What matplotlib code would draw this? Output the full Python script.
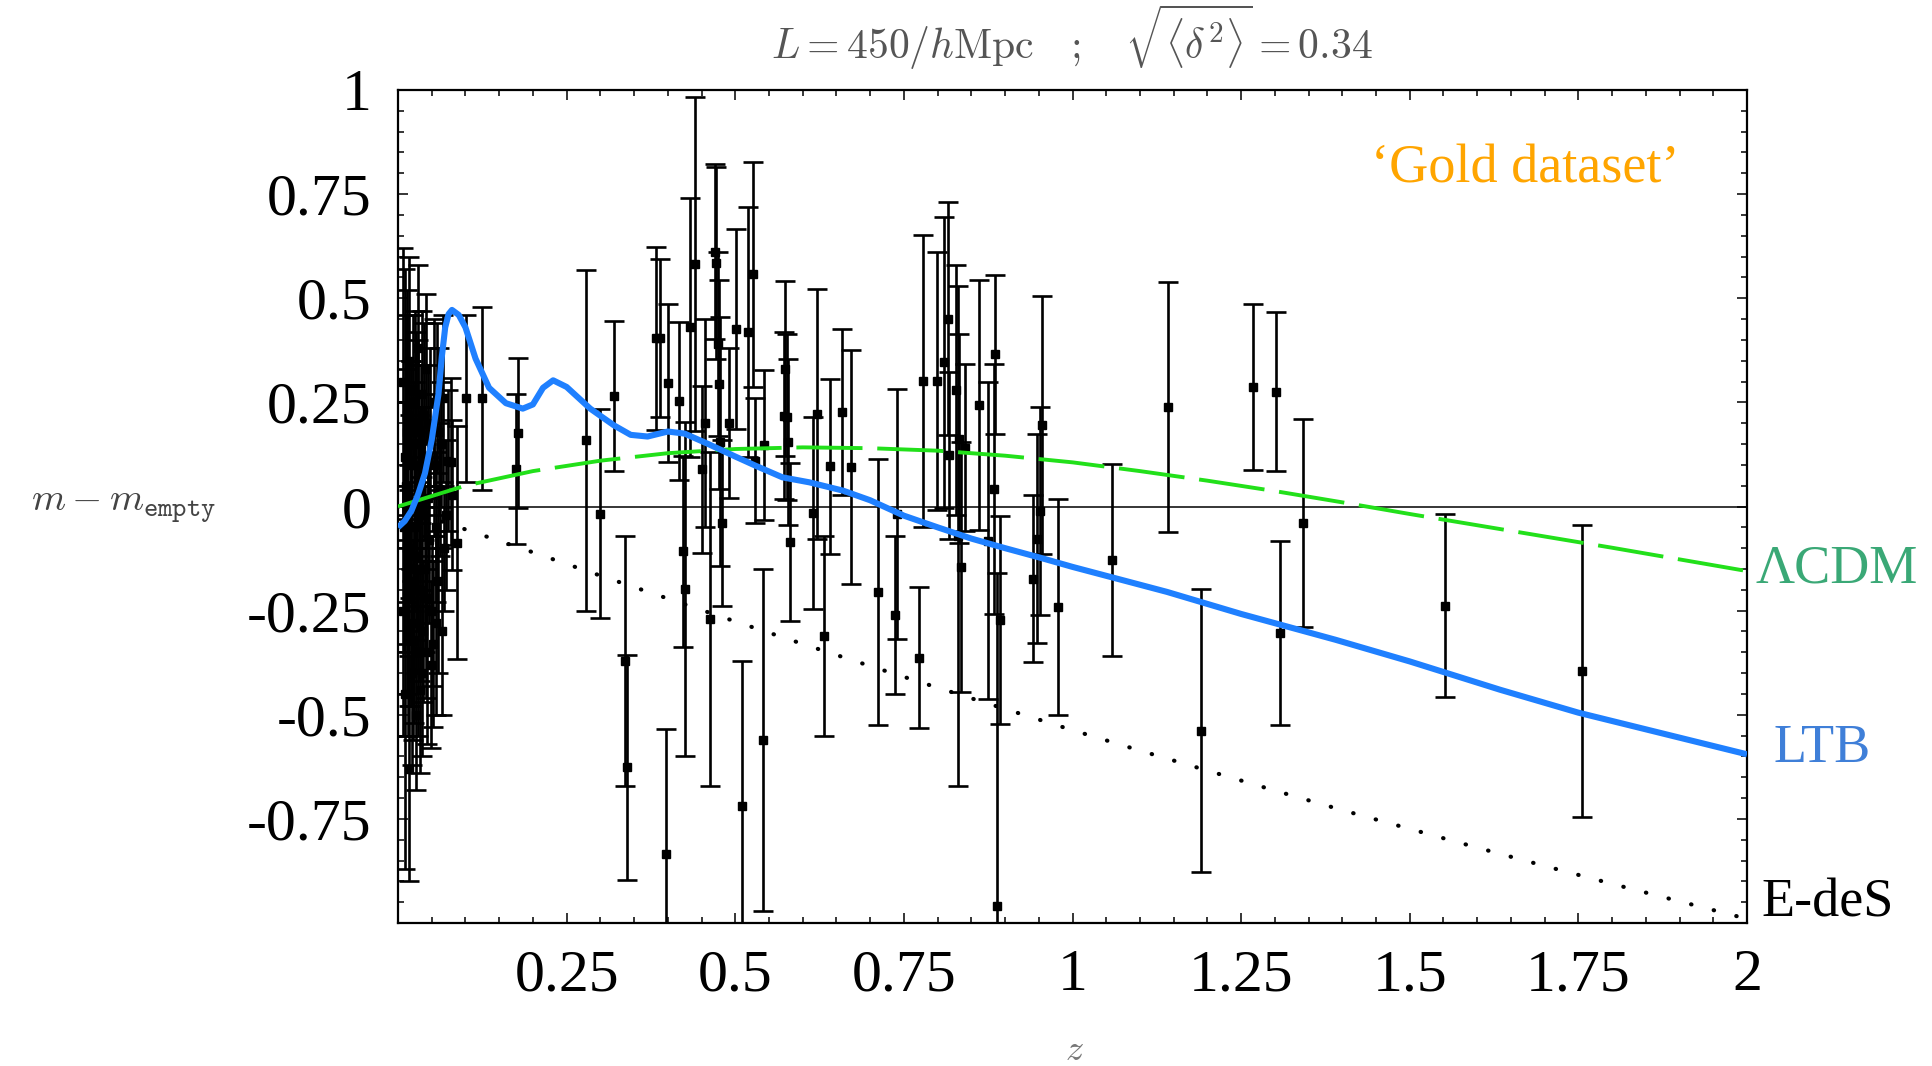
import matplotlib.pyplot as plt
import numpy as np
from matplotlib.ticker import MultipleLocator

plt.rcParams['mathtext.fontset'] = 'cm'

# supernova residuals m - m_empty: redshift, value, 1-sigma error
z_sn = [0.007, 0.008, 0.010, 0.011, 0.012, 0.013, 0.014, 0.015, 0.016, 0.017,
        0.018, 0.019, 0.020, 0.021, 0.022, 0.023, 0.024, 0.025, 0.026, 0.027,
        0.028, 0.029, 0.030, 0.031, 0.032, 0.033, 0.034, 0.035, 0.036, 0.037,
        0.038, 0.040, 0.041, 0.043, 0.044, 0.046, 0.048, 0.050, 0.052, 0.054,
        0.056, 0.058, 0.060, 0.062, 0.064, 0.066, 0.068, 0.071, 0.074, 0.078,
        0.080, 0.087,
        0.009, 0.013, 0.016, 0.019, 0.022, 0.025, 0.027, 0.030, 0.033, 0.036,
        0.039, 0.042, 0.045, 0.049, 0.053, 0.057, 0.061, 0.065,
        0.101, 0.125, 0.175, 0.178, 0.279, 0.299, 0.320, 0.336, 0.340, 0.383,
        0.388, 0.397, 0.401, 0.417, 0.422, 0.425, 0.433, 0.440, 0.450, 0.455,
        0.462, 0.470, 0.472, 0.474, 0.476, 0.478, 0.480, 0.490, 0.501, 0.510,
        0.519, 0.527, 0.529, 0.541, 0.543, 0.572, 0.574, 0.576, 0.578, 0.581,
        0.616, 0.621, 0.631, 0.641, 0.658, 0.671, 0.711, 0.737, 0.740, 0.773,
        0.779, 0.799, 0.809, 0.816, 0.817, 0.828, 0.830, 0.832, 0.835, 0.841,
        0.861, 0.874, 0.883, 0.885, 0.888, 0.892, 0.942, 0.947, 0.952, 0.955,
        0.979, 1.058, 1.141, 1.190, 1.267, 1.302, 1.307, 1.341, 1.552, 1.756]
dm_sn = [0.30, -0.25, 0.12, -0.45, 0.05, -0.10, 0.22, -0.30, 0.35, -0.63,
         0.00, -0.18, 0.15, -0.40, 0.28, -0.05, -0.28, 0.10, -0.50, 0.20,
         -0.12, 0.38, -0.35, 0.05, -0.20, -0.44, 0.15, -0.02, 0.27, -0.30,
         0.08, -0.15, 0.33, -0.35, 0.02, -0.08, 0.20, -0.25, -0.33, 0.10,
         -0.05, 0.26, -0.18, 0.04, 0.15, 0.26, -0.10, -0.02, 0.11, 0.108,
         0.028, -0.087,
         -0.05, 0.18, -0.22, 0.10, -0.32, 0.25, -0.15, 0.18, 0.00, -0.40,
         0.22, -0.22, 0.12, -0.38, 0.25, -0.28, 0.18, -0.30,
         0.26, 0.26, 0.09, 0.176, 0.159, -0.017, 0.266, -0.372, -0.626, 0.404,
         0.404, -0.834, 0.297, 0.254, -0.108, -0.198, 0.43, 0.582, 0.089, 0.20,
         -0.27, 0.612, 0.584, 0.39, 0.293, 0.156, -0.04, 0.20, 0.427, -0.72,
         0.42, 0.558, 0.11, -0.56, 0.147, 0.218, 0.331, 0.215, 0.155, -0.085,
         -0.015, 0.223, -0.31, 0.097, 0.227, 0.095, -0.205, -0.261, -0.017, -0.363,
         0.301, 0.301, 0.346, 0.451, 0.123, 0.279, -0.07, 0.163, -0.145, 0.141,
         0.243, -0.082, 0.041, 0.365, -0.96, -0.273, -0.173, -0.077, -0.01, 0.195,
         -0.241, -0.128, 0.238, -0.538, 0.287, 0.276, -0.304, -0.039, -0.238, -0.395]
err_sn = [0.32, 0.30, 0.45, 0.42, 0.28, 0.35, 0.30, 0.25, 0.25, 0.27,
          0.22, 0.30, 0.20, 0.22, 0.18, 0.20, 0.24, 0.20, 0.18, 0.22,
          0.18, 0.20, 0.20, 0.17, 0.22, 0.20, 0.19, 0.18, 0.20, 0.17,
          0.16, 0.20, 0.18, 0.22, 0.17, 0.20, 0.18, 0.18, 0.20, 0.17,
          0.18, 0.18, 0.22, 0.16, 0.15, 0.20, 0.15, 0.18, 0.17, 0.20,
          0.18, 0.28,
          0.30, 0.28, 0.26, 0.25, 0.24, 0.22, 0.25, 0.22, 0.24, 0.20,
          0.22, 0.24, 0.22, 0.20, 0.20, 0.22, 0.20, 0.20,
          0.20, 0.22, 0.18, 0.18, 0.41, 0.25, 0.18, 0.30, 0.27, 0.22,
          0.19, 0.30, 0.19, 0.19, 0.23, 0.40, 0.31, 0.40, 0.20, 0.25,
          0.40, 0.21, 0.23, 0.22, 0.25, 0.30, 0.20, 0.18, 0.24, 0.35,
          0.30, 0.27, 0.15, 0.41, 0.18, 0.20, 0.21, 0.20, 0.20, 0.19,
          0.23, 0.30, 0.24, 0.21, 0.20, 0.28, 0.32, 0.19, 0.30, 0.17,
          0.35, 0.31, 0.35, 0.28, 0.20, 0.30, 0.60, 0.25, 0.30, 0.20,
          0.30, 0.38, 0.30, 0.19, 0.80, 0.25, 0.20, 0.25, 0.25, 0.31,
          0.26, 0.23, 0.30, 0.34, 0.20, 0.19, 0.22, 0.25, 0.22, 0.35]

# model curves relative to the empty universe
z_ltb = [0.0, 0.01, 0.02, 0.03, 0.04, 0.05, 0.06, 0.065, 0.07, 0.075, 0.08, 0.09,
         0.10, 0.115, 0.135, 0.16, 0.185, 0.20, 0.215, 0.23, 0.25, 0.285, 0.32,
         0.345, 0.37, 0.40, 0.425, 0.46, 0.50, 0.53, 0.57, 0.61, 0.66, 0.70,
         0.75, 0.80, 0.85, 0.90, 0.95, 1.0, 1.14, 1.25, 1.39, 1.50, 1.634,
         1.75, 2.0]
dm_ltb = [-0.05, -0.035, -0.01, 0.03, 0.08, 0.16, 0.27, 0.36, 0.43, 0.462, 0.472, 0.46,
          0.43, 0.355, 0.285, 0.248, 0.235, 0.245, 0.285, 0.303, 0.287, 0.235, 0.195,
          0.172, 0.168, 0.18, 0.175, 0.15, 0.12, 0.098, 0.07, 0.058, 0.038, 0.015,
          -0.022, -0.05, -0.077, -0.10, -0.122, -0.145, -0.205, -0.258, -0.32, -0.372, -0.44,
          -0.495, -0.595]

z_grid = [0.0, 0.1, 0.2, 0.3, 0.4, 0.5, 0.6, 0.7, 0.8, 0.9, 1.0,
          1.1, 1.2, 1.3, 1.4, 1.5, 1.6, 1.7, 1.8, 1.9, 2.0]
dm_lcdm = [0.0, 0.05, 0.085, 0.11, 0.128, 0.138, 0.142, 0.14, 0.134, 0.122, 0.106,
           0.085, 0.062, 0.037, 0.01, -0.018, -0.045, -0.072, -0.099, -0.127, -0.155]
dm_eds = [0.0, -0.055, -0.110, -0.166, -0.221, -0.276, -0.330, -0.383, -0.435, -0.486, -0.537,
          -0.586, -0.634, -0.682, -0.729, -0.774, -0.819, -0.863, -0.906, -0.948, -0.990]

xtick_vals = [0.25, 0.5, 0.75, 1, 1.25, 1.5, 1.75, 2]
xtick_labels = ['0.25', '0.5', '0.75', '1', '1.25', '1.5', '1.75', '2']
ytick_vals = [-0.75, -0.5, -0.25, 0, 0.25, 0.5, 0.75, 1]
ytick_labels = ['-0.75', '-0.5', '-0.25', '0', '0.25', '0.5', '0.75', '1']

fig = plt.figure(figsize=(19.32, 10.66), dpi=100)
ax = fig.add_axes([398/1932, 1-923/1066, 1349/1932, 833/1066])

ax.axhline(0, color='black', lw=1.1, zorder=1)

ax.errorbar(z_sn, dm_sn, yerr=err_sn, fmt='s', color='black', ms=5.5,
            capsize=7, elinewidth=1.9, capthick=1.9, zorder=3)

ax.plot(z_grid, dm_eds, color='black', lw=3.0, linestyle=(0, (0.1, 5.5)),
        dash_capstyle='round', zorder=2)
ax.plot(z_grid, dm_lcdm, color='#22e01a', lw=2.8, linestyle=(0, (17, 3.8)), zorder=4)
ax.plot(z_ltb, dm_ltb, color='#1f80ff', lw=4.4, solid_capstyle='butt',
        solid_joinstyle='round', zorder=4)

ax.set_xlim(0, 2)
ax.set_ylim(-1, 1)
ax.set_xticks(xtick_vals)
ax.set_xticklabels(xtick_labels)
ax.set_yticks(ytick_vals)
ax.set_yticklabels(ytick_labels)
ax.xaxis.set_minor_locator(MultipleLocator(0.05))
ax.yaxis.set_minor_locator(MultipleLocator(0.05))
ax.tick_params(which='both', direction='in', top=True, right=True, width=1.1)
ax.tick_params(which='major', length=7)
ax.tick_params(which='minor', length=4.5)
ax.tick_params(axis='x', pad=19)
ax.tick_params(axis='y', pad=19)
for lab in ax.get_xticklabels() + ax.get_yticklabels():
    lab.set_fontfamily('Liberation Serif')
    lab.set_fontsize(43)
for sp in ax.spines.values():
    sp.set_linewidth(1.6)

# labels and annotations
fig.text(1072/1932, 1-37/1066, r'$L=450/h\mathrm{Mpc}\quad;\quad\sqrt{\langle\delta^2\rangle}=0.34$',
         ha='center', va='center', fontsize=30, color='#555555')
fig.text(123/1932, 1-506/1066, r'$m-m_{\mathtt{empty}}$', ha='center', va='center',
         fontsize=28, color='#444444')
fig.text(1074/1932, 1-1050/1066, r'$z$', ha='center', va='center', fontsize=26, color='#777777')

serif = 'Liberation Serif'
ax.text(1.671, 0.81, '\u2018Gold dataset\u2019', color='#ffa500', fontsize=39,
        family=serif, ha='center', va='center')
ax.text(2.013, -0.15, '\u039bCDM', color='#3aa876', fontsize=39, family=serif,
        ha='left', va='center', clip_on=False)
ax.text(2.04, -0.582, 'LTB', color='#3f7fd8', fontsize=39, family=serif,
        ha='left', va='center', clip_on=False)
ax.text(2.022, -0.952, 'E-deS', color='black', fontsize=39, family=serif,
        ha='left', va='center', clip_on=False)

fig.savefig('out.png', dpi=100)
